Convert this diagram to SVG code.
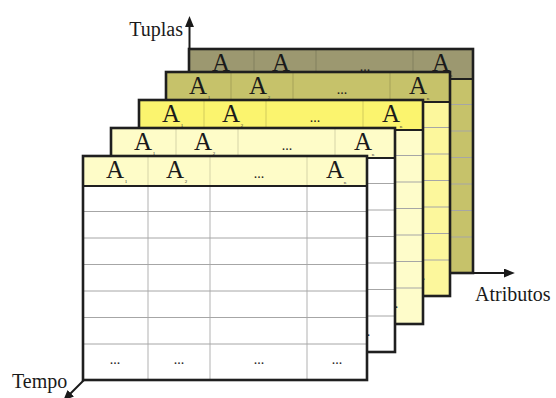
<svg xmlns="http://www.w3.org/2000/svg" xmlns:xlink="http://www.w3.org/1999/xlink" width="556" height="398" viewBox="0 0 556 398">
  <style>
    .frame { fill: none; stroke: #1f1f1f; stroke-width: 2.6; }
    .hsep { stroke: #1f1f1f; stroke-width: 2; }
    .hcol { stroke: #000; stroke-opacity: 0.16; stroke-width: 1; }
    .bcol { stroke: #cfcfcf; stroke-width: 1.6; }
    .brow { stroke: #a6a6a6; stroke-width: 1; }
    .big { font-family: "Liberation Serif", "Times New Roman", serif; font-size: 25px; fill: #1a1a1a; text-anchor: middle; }
    .dots { font-family: "Liberation Serif", "Times New Roman", serif; font-size: 14px; fill: #1a1a1a; text-anchor: middle; }
    .sub { font-family: "Liberation Serif", "Times New Roman", serif; font-size: 5px; fill: #333; text-anchor: middle; }
    .lbl { font-family: "Liberation Serif", "Times New Roman", serif; font-size: 20px; fill: #1a1a1a; }
    .axis { stroke: #1a1a1a; stroke-width: 2; fill: none; }
  </style>
  <defs>
    <marker id="head" viewBox="0 0 10 10" refX="1" refY="5" markerWidth="5.5" markerHeight="4.5" orient="auto" markerUnits="strokeWidth" preserveAspectRatio="none">
      <path d="M0,0 L10,5 L0,10 Z" fill="#1a1a1a"/>
    </marker>
    <!-- table grid: 4 columns, header row + 7 body rows -->
    <g id="grid">
      <line class="hcol" x1="65" y1="0" x2="65" y2="30"/>
      <line class="hcol" x1="127" y1="0" x2="127" y2="30"/>
      <line class="hcol" x1="224" y1="0" x2="224" y2="30"/>
      <line class="bcol" x1="65" y1="30" x2="65" y2="224"/>
      <line class="bcol" x1="127" y1="30" x2="127" y2="224"/>
      <line class="bcol" x1="224" y1="30" x2="224" y2="224"/>
      <line class="brow" x1="0" y1="55.5" x2="284" y2="55.5"/>
      <line class="brow" x1="0" y1="82" x2="284" y2="82"/>
      <line class="brow" x1="0" y1="108.5" x2="284" y2="108.5"/>
      <line class="brow" x1="0" y1="135" x2="284" y2="135"/>
      <line class="brow" x1="0" y1="161.5" x2="284" y2="161.5"/>
      <line class="brow" x1="0" y1="188" x2="284" y2="188"/>
      <line class="hsep" x1="0" y1="30" x2="284" y2="30"/>
    </g>
    <!-- attribute names and ellipses -->
    <g id="labels">
      <text class="big" x="32" y="22">A</text>
      <text class="sub" x="43" y="27">1</text>
      <text class="big" x="92" y="22">A</text>
      <text class="sub" x="103" y="27">2</text>
      <text class="dots" x="176" y="22">...</text>
      <text class="big" x="252" y="22">A</text>
      <text class="sub" x="262" y="28">n</text>
      <text class="dots" x="32" y="208">...</text>
      <text class="dots" x="96" y="208">...</text>
      <text class="dots" x="176" y="208">...</text>
      <text class="dots" x="254" y="208">...</text>
    </g>
  </defs>

  <rect width="556" height="398" fill="#ffffff"/>

  <!-- table at the oldest instant (back) -->
  <g id="table5" transform="translate(189,49)">
    <rect x="0" y="30" width="284" height="194" fill="#c6c26a"/>
    <rect x="0" y="0" width="284" height="30" fill="#9c9870"/>
    <use xlink:href="#grid"/>
    <use xlink:href="#labels"/>
    <rect class="frame" x="0" y="0" width="284" height="224"/>
  </g>

  <g id="table4" transform="translate(166,72)">
    <rect x="0" y="30" width="284" height="194" fill="#fcf79c"/>
    <rect x="0" y="0" width="284" height="30" fill="#c6c26a"/>
    <use xlink:href="#grid"/>
    <use xlink:href="#labels"/>
    <rect class="frame" x="0" y="0" width="284" height="224"/>
  </g>

  <g id="table3" transform="translate(139,100)">
    <rect x="0" y="30" width="284" height="194" fill="#fefcca"/>
    <rect x="0" y="0" width="284" height="30" fill="#fbf46e"/>
    <use xlink:href="#grid"/>
    <use xlink:href="#labels"/>
    <rect class="frame" x="0" y="0" width="284" height="224"/>
  </g>

  <g id="table2" transform="translate(111,128)">
    <rect x="0" y="30" width="284" height="194" fill="#ffffff"/>
    <rect x="0" y="0" width="284" height="30" fill="#fefcc8"/>
    <use xlink:href="#grid"/>
    <use xlink:href="#labels"/>
    <rect class="frame" x="0" y="0" width="284" height="224"/>
  </g>

  <!-- current table (front) -->
  <g id="table1" transform="translate(83,156)">
    <rect x="0" y="30" width="284" height="194" fill="#ffffff"/>
    <rect x="0" y="0" width="284" height="30" fill="#fefcc8"/>
    <use xlink:href="#grid"/>
    <use xlink:href="#labels"/>
    <rect class="frame" x="0" y="0" width="284" height="224"/>
  </g>

  <!-- axes -->
  <g id="connectors">
    <line class="axis" x1="189.5" y1="49" x2="189.5" y2="26" marker-end="url(#head)"/>
    <line class="axis" x1="473" y1="273" x2="505" y2="273" marker-end="url(#head)"/>
    <line class="axis" x1="84" y1="380" x2="70" y2="394" marker-end="url(#head)"/>
  </g>

  <g id="axis-labels">
    <text class="lbl" x="183" y="36" text-anchor="end">Tuplas</text>
    <text class="lbl" x="475" y="301">Atributos</text>
    <text class="lbl" x="12" y="388">Tempo</text>
  </g>
</svg>
